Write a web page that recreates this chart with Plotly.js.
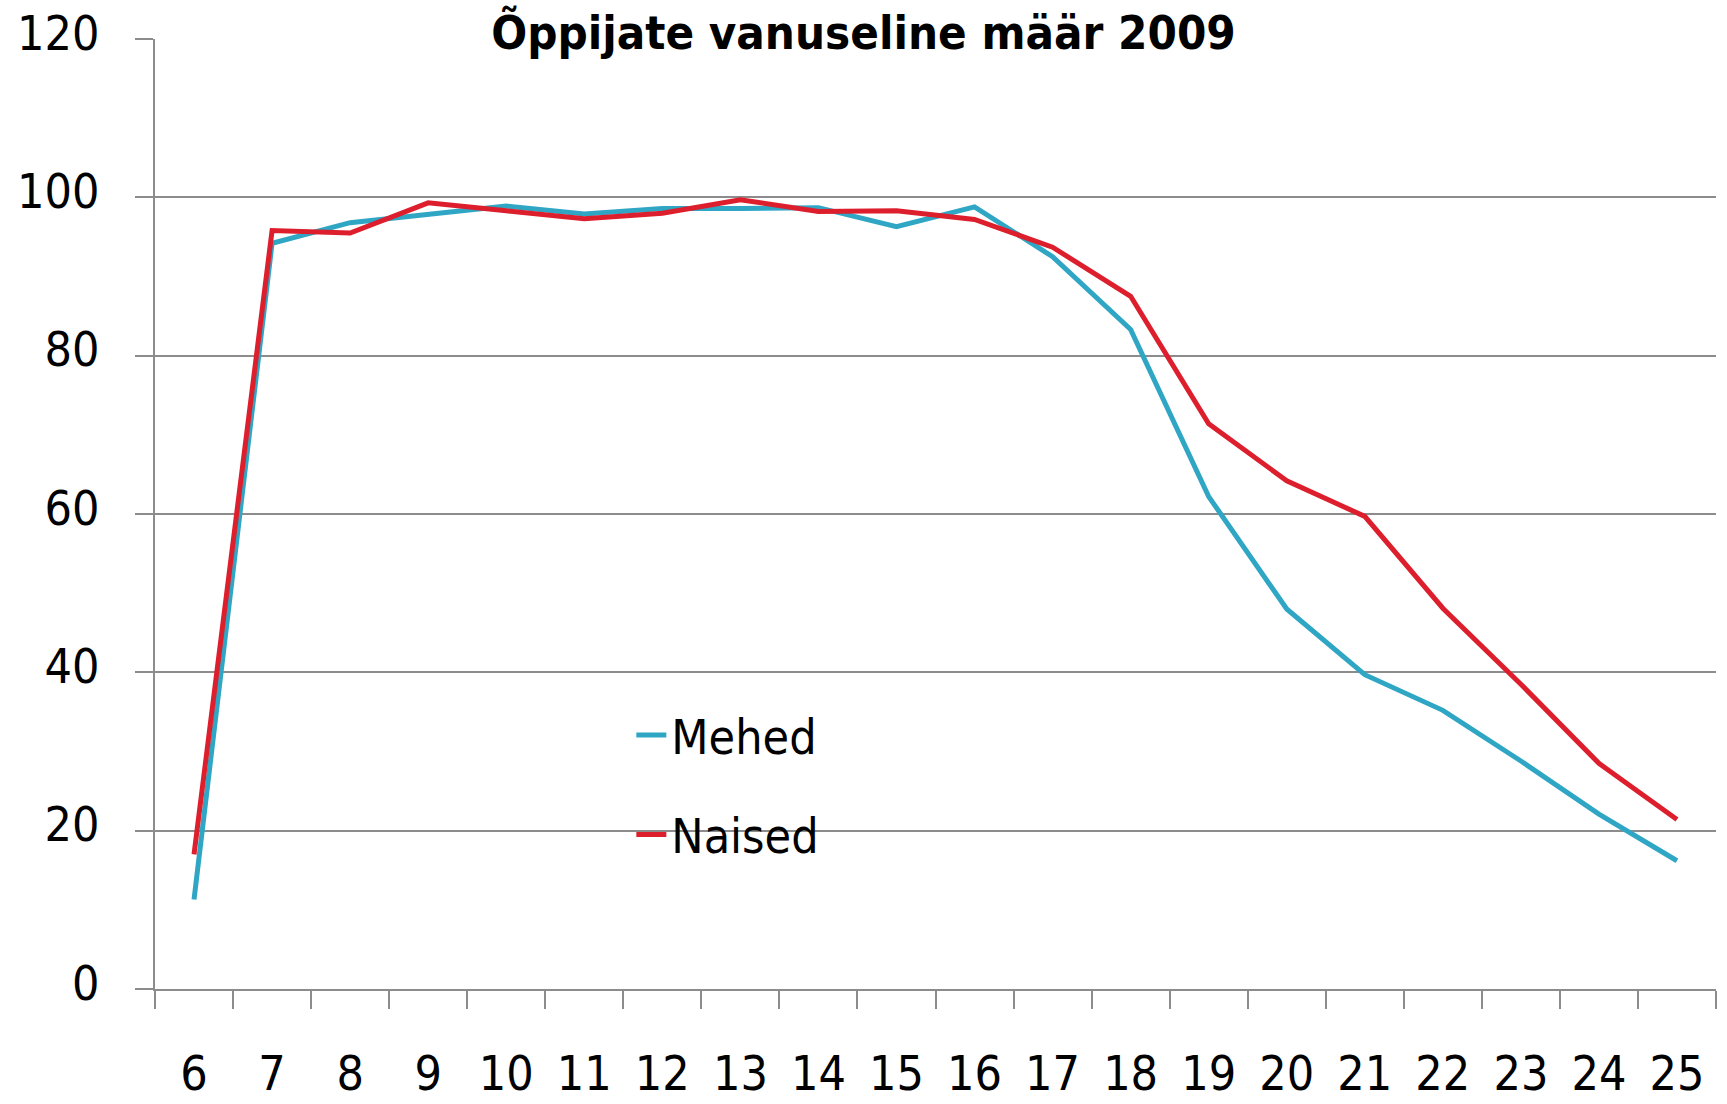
<!DOCTYPE html>
<html>
<head>
<meta charset="utf-8">
<script src="https://cdn.plot.ly/plotly-3.0.1.min.js"></script>
<style>html,body{margin:0;padding:0;background:#fff;}#chart{width:1727px;height:1104px;}</style>
</head>
<body>
<div id="chart"></div>
<script>
const ages = ["6","7","8","9","10","11","12","13","14","15","16","17","18","19","20","21","22","23","24","25"];
const mehed = [11.3,94.2,96.8,97.8,98.9,97.9,98.6,98.6,98.7,96.3,98.8,92.5,83.3,62.2,48.0,39.7,35.2,28.8,22.1,16.2];
const naised = [17.0,95.8,95.5,99.3,98.3,97.3,98.0,99.7,98.2,98.3,97.2,93.7,87.5,71.4,64.2,59.7,48.1,38.5,28.5,21.4];
const yTicks = [0,20,40,60,80,100,120];
const titleText = "Õppijate vanuseline määr 2009";
const seriesNames = ["Mehed","Naised"];

const FONT = "'DejaVu Sans Condensed', 'Liberation Sans', sans-serif";
const GRID = "#8c8c8c";

const traces = [
  {x: ages, y: mehed, name: seriesNames[0], type: "scatter", mode: "lines",
   line: {color: "#2fa6c4", width: 5}, legendgroup: "a"},
  {x: ages, y: naised, name: seriesNames[1], type: "scatter", mode: "lines",
   line: {color: "#dd1f2d", width: 5}, legendgroup: "b"}
];

const layout = {
  width: 1727, height: 1104,
  margin: {l: 154.5, r: 11, t: 39, b: 115},
  paper_bgcolor: "#fff", plot_bgcolor: "#fff",
  font: {family: FONT, size: 48, color: "#000"},
  title: {text: titleText, font: {family: FONT, size: 47, color: "#000", weight: "bold"},
          xref: "container", x: 0.5, xanchor: "center",
          yref: "container", y: 1 - 33/1104, yanchor: "middle"},
  showlegend: true,
  legend: {x: (631 - 154.5)/1561.5, y: 0.307, xanchor: "left", yanchor: "top",
           bgcolor: "rgba(0,0,0,0)", font: {family: FONT, size: 48, color: "#000"},
           tracegroupgap: 34, traceorder: "grouped"},
  xaxis: {type: "category", range: [-0.5, 19.5], tickson: "boundaries",
          ticks: "outside", ticklen: 18, tickcolor: GRID, tickwidth: 2,
          showline: true, linecolor: GRID, linewidth: 2, showgrid: false,
          zeroline: false, tickfont: {family: FONT, size: 48, color: "#000"},
          ticklabelstandoff: 41, fixedrange: true},
  yaxis: {range: [0, 120], tickvals: yTicks, ticks: "outside", ticklen: 18,
          tickcolor: GRID, tickwidth: 2, showline: true, linecolor: GRID, linewidth: 2,
          showgrid: true, gridcolor: GRID, gridwidth: 2, zeroline: false,
          tickfont: {family: FONT, size: 48, color: "#000"},
          ticklabelstandoff: 26, ticklabelshift: -6, fixedrange: true}
};

Plotly.newPlot("chart", traces, layout, {displayModeBar: false, staticPlot: true});
</script>
</body>
</html>
